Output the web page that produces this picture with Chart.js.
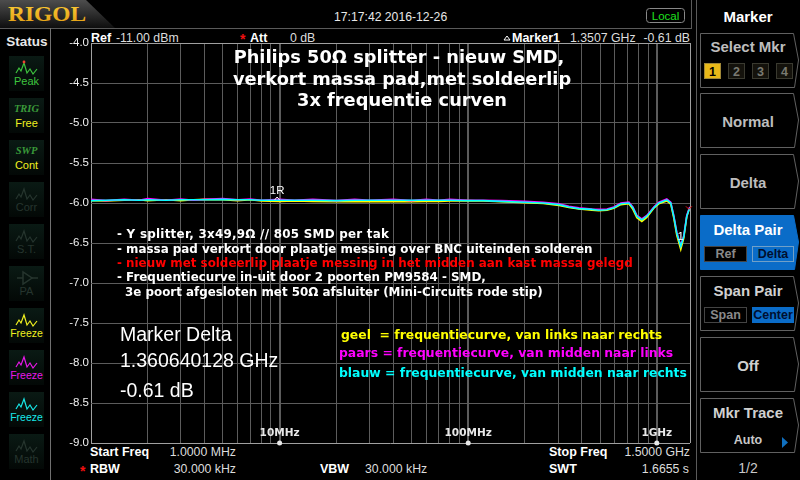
<!DOCTYPE html>
<html>
<head>
<meta charset="utf-8">
<title>Philips 50Ω splitter</title>
<script src="https://cdn.jsdelivr.net/npm/chart.js@4/dist/chart.umd.min.js"></script>
<style>
  html, body { margin: 0; padding: 0; background: #000; overflow: hidden; }
  #wrap { position: relative; width: 800px; height: 480px; }
  svg, canvas { position: absolute; left: 0; top: 0; }
  text { font-family: "Liberation Sans", Arial, sans-serif; }
  .note { font-family: "DejaVu Sans", Verdana, sans-serif; font-weight: bold; }
</style>
</head>
<body>
<div id="wrap">
  <svg id="back" width="800" height="480" xmlns="http://www.w3.org/2000/svg"></svg>
  <canvas id="grafico" width="800" height="480"></canvas>
  <svg id="front" width="800" height="480" xmlns="http://www.w3.org/2000/svg"></svg>
</div>
<script>
// frequency in MHz
const freqs = [1, 1.2, 1.5, 1.8, 2, 2.5, 3, 3.5, 4, 5, 6, 7, 8, 10, 12, 15, 20, 25, 30, 40, 50, 60, 70, 80, 100, 120, 150, 200, 250,
  303, 342, 386, 453, 493, 544, 592, 645, 711, 747, 784, 833, 885, 964, 1025, 1130, 1186, 1230, 1276, 1340, 1390, 1442, 1486, 1500];

const geel = [-5.97, -5.975, -5.965, -5.96, -5.97, -5.96, -5.97, -5.96, -5.955, -5.96, -5.97, -5.96, -5.975, -5.98, -5.975, -5.98, -5.985, -5.98, -5.985, -5.98, -5.985, -5.98, -5.98, -5.975, -5.97, -5.975, -5.985, -5.995, -6.005,
  -6.03, -6.055, -6.075, -6.09, -6.095, -6.09, -6.065, -6.02, -6.01, -6.08, -6.185, -6.23, -6.18, -6.065, -6.01, -5.975, -6.015, -6.185, -6.4, -6.58, -6.44, -6.17, -6.075, -6.06];
const paars = [-5.955, -5.97, -5.955, -5.965, -5.945, -5.965, -5.95, -5.965, -5.955, -5.945, -5.96, -5.95, -5.965, -5.955, -5.965, -5.955, -5.97, -5.955, -5.965, -5.955, -5.97, -5.955, -5.965, -5.955, -5.965, -5.965, -5.97, -5.98, -5.99,
  -6.01, -6.04, -6.06, -6.075, -6.08, -6.075, -6.05, -6.0, -5.99, -6.05, -6.155, -6.2, -6.155, -6.05, -5.99, -5.95, -5.99, -6.155, -6.365, -6.53, -6.41, -6.155, -6.065, -6.05];
const blauw = [-5.97, -5.965, -5.96, -5.965, -5.96, -5.965, -5.96, -5.96, -5.96, -5.955, -5.96, -5.96, -5.965, -5.965, -5.965, -5.965, -5.97, -5.965, -5.965, -5.965, -5.965, -5.965, -5.965, -5.965, -5.97, -5.97, -5.98, -5.99, -6.0,
  -6.02, -6.05, -6.07, -6.08, -6.09, -6.085, -6.06, -6.01, -6.0, -6.06, -6.165, -6.21, -6.165, -6.06, -6.0, -5.96, -6.0, -6.165, -6.375, -6.54, -6.42, -6.165, -6.075, -6.06];

const gridFreqs = [1, 2, 3, 4, 5, 6, 7, 8, 9, 10, 20, 30, 40, 50, 60, 70, 80, 90, 100, 200, 300, 400, 500, 600, 700, 800, 900, 1000, 1500];
const decadeFreqs = [10, 100, 1000];
const decadeLabels = ["10MHz", "100MHz", "1GHz"];
const yMin = -9, yMax = -4, yStep = 0.5;

const markerRef = [9.7, -5.95];
const markerDelta = [1340, -6.42];
const markerEnd = [1480, -6.06];

const titleLines = ["Philips 50Ω splitter - nieuw SMD,", "verkort massa pad,met soldeerlip", "3x frequentie curven"];
const noteLines = ["- Y splitter, 3x49,9Ω // 805 SMD per tak",
  "- massa pad verkort door plaatje messing over BNC uiteinden solderen",
  "- nieuw met soldeerlip plaatje messing in het midden aan kast massa gelegd",
  "- Frequentiecurve in-uit door 2 poorten PM9584 - SMD,",
  "3e poort afgesloten met 50Ω afsluiter (Mini-Circuits rode stip)"];
const deltaLines = ["Marker Delta", "1.360640128 GHz", "-0.61 dB"];
const legendLines = ["geel  = frequentiecurve, van links naar rechts",
  "paars = frequentiecurve, van midden naar links",
  "blauw = frequentiecurve, van midden naar rechts"];

const NS = "http://www.w3.org/2000/svg";
function el(parent, name, attrs, content) {
  const e = document.createElementNS(NS, name);
  for (const k in attrs) e.setAttribute(k, attrs[k]);
  if (content !== undefined) e.textContent = content;
  parent.appendChild(e);
  return e;
}
function txt(parent, x, y, s, size, fill, extra) {
  const a = Object.assign({ x: x, y: y, "font-size": size, fill: fill }, extra || {});
  const t = el(parent, "text", a, s);
  t.style.whiteSpace = "pre";
  return t;
}
const BOLD = { "font-weight": "bold" };
const back = document.getElementById("back");
const front = document.getElementById("front");

// ---- frame and logo
const defs = el(back, "defs", {});
const lg = el(defs, "linearGradient", { id: "logoBg", x1: 0, y1: 0, x2: 0, y2: 1 });
el(lg, "stop", { offset: "0", "stop-color": "#4d4d4d" });
el(lg, "stop", { offset: "1", "stop-color": "#0e0e0e" });
const lg2 = el(defs, "linearGradient", { id: "logoGold", x1: 0, y1: 0, x2: 0, y2: 1 });
el(lg2, "stop", { offset: "0", "stop-color": "#ffd23a" });
el(lg2, "stop", { offset: "1", "stop-color": "#e09a10" });
const lg3 = el(defs, "linearGradient", { id: "statusBg", x1: 0, y1: 0, x2: 0, y2: 1 });
el(lg3, "stop", { offset: "0", "stop-color": "#0a1a14" });
el(lg3, "stop", { offset: "1", "stop-color": "#030806" });

el(back, "polygon", { points: "0,0 86,0 115,28 0,28", fill: "url(#logoBg)" });
txt(back, 8, 21, "RIGOL", 22, "url(#logoGold)", { "font-weight": "bold", style: "font-family:'Liberation Serif',serif", textLength: 78, lengthAdjust: "spacingAndGlyphs" });
el(back, "line", { x1: 0, y1: 28.5, x2: 692, y2: 28.5, stroke: "#5a5a5a" });
el(back, "line", { x1: 50.5, y1: 28, x2: 50.5, y2: 480, stroke: "#707070" });
el(back, "line", { x1: 691.5, y1: 0, x2: 691.5, y2: 28, stroke: "#5a5a5a" });
el(back, "line", { x1: 696.5, y1: 0, x2: 696.5, y2: 480, stroke: "#5a5a5a" });

// ---- top bar
txt(back, 334, 21, "17:17:42 2016-12-26", 12.2, "#e8e8e8");
el(back, "rect", { x: 646.5, y: 8.5, width: 38, height: 14, rx: 3, fill: "#000", stroke: "#888" });
txt(back, 665.5, 20, "Local", 11.5, "#1fe01f", { "text-anchor": "middle" });
txt(back, 91, 42, "Ref", 12.5, "#fff", BOLD);
txt(back, 116, 42, "-11.00 dBm", 12.3, "#ddd");
txt(back, 240, 44, "*", 14, "#f01010", BOLD);
txt(back, 250, 42, "Att", 12.5, "#fff", BOLD);
txt(back, 290, 42, "0 dB", 12.3, "#ddd");
el(back, "polygon", { points: "504,40 510,40 507,36", fill: "none", stroke: "#fff" });
txt(back, 512, 42, "Marker1", 12.5, "#fff", BOLD);
txt(back, 570, 42, "1.3507 GHz", 12.3, "#ddd");
txt(back, 690, 42, "-0.61 dB", 12.3, "#ddd", { "text-anchor": "end" });

// ---- bottom bar
txt(back, 90, 456, "Start Freq", 12.5, "#fff", BOLD);
txt(back, 236, 456, "1.0000 MHz", 12.3, "#ddd", { "text-anchor": "end" });
txt(back, 80, 476, "*", 14, "#f01010", BOLD);
txt(back, 90, 473, "RBW", 12.5, "#fff", BOLD);
txt(back, 236, 473, "30.000 kHz", 12.3, "#ddd", { "text-anchor": "end" });
txt(back, 320, 473, "VBW", 12.5, "#fff", BOLD);
txt(back, 365, 473, "30.000 kHz", 12.3, "#ddd");
txt(back, 549, 456, "Stop Freq", 12.5, "#fff", BOLD);
txt(back, 690, 456, "1.5000 GHz", 12.3, "#ddd", { "text-anchor": "end" });
txt(back, 549, 473, "SWT", 12.5, "#fff", BOLD);
txt(back, 689, 473, "1.6655 s", 12.3, "#ddd", { "text-anchor": "end" });

// ---- status column
txt(back, 27, 46, "Status", 13.5, "#e8e8e8", { "font-weight": "bold", "text-anchor": "middle" });
const wave = "7,17 10,12 12,15 15,7 18,17 21,13 24,18 28,13";
const dim = "#26352e";
const statusRows = [
  { label: "Peak", wave: "#3ec43e", text: "#3ec43e", dot: true },
  { head: "TRIG", label: "Free", text: "#f0f020" },
  { head: "SWP", label: "Cont", text: "#f0f020" },
  { label: "Corr", wave: dim, text: dim },
  { label: "S.T.", wave: dim, text: dim },
  { label: "PA", text: dim, amp: true },
  { label: "Freeze", wave: "#f0f020", text: "#f0f020" },
  { label: "Freeze", wave: "#e818e8", text: "#e818e8" },
  { label: "Freeze", wave: "#18e8e8", text: "#18e8e8" },
  { label: "Math", wave: dim, text: dim }
];
statusRows.forEach(function (r, i) {
  const y = 56 + i * 42;
  el(back, "rect", { x: 9, y: y, width: 35, height: 35, fill: "url(#statusBg)" });
  const g = el(back, "g", { transform: "translate(9," + y + ")" });
  if (r.wave) el(g, "polyline", { points: wave, fill: "none", stroke: r.wave, "stroke-width": 1.2 });
  if (r.dot) el(g, "circle", { cx: 15, cy: 6, r: 1.4, fill: "#f04030" });
  if (r.amp) {
    el(g, "polygon", { points: "14,6 14,18 23,12", fill: "none", stroke: dim, "stroke-width": 1.5 });
    el(g, "line", { x1: 8, y1: 12, x2: 14, y2: 12, stroke: dim, "stroke-width": 1.5 });
    el(g, "line", { x1: 23, y1: 12, x2: 29, y2: 12, stroke: dim, "stroke-width": 1.5 });
  }
  if (r.head) txt(g, 17.5, 14, r.head, 10.5, "#3a9a3a", { "text-anchor": "middle", "font-weight": "bold", "font-style": "italic", style: "font-family:'Liberation Serif',serif" });
  txt(g, 17.5, 29, r.label, r.label === "Freeze" ? 10.5 : 11, r.text, { "text-anchor": "middle" });
});

// ---- soft keys
txt(back, 748, 22, "Marker", 15, "#fff", { "font-weight": "bold", "text-anchor": "middle" });
const keyTops = [33, 93, 154, 215, 276, 337, 398];
keyTops.forEach(function (t, i) {
  const h = 54;
  const active = i === 3;
  el(back, "polygon", {
    points: "700.5," + (t + 0.5) + " 793.5," + (t + 0.5) + " 798.5," + (t + h / 2) + " 794.5," + (t + h + 0.5) + " 700.5," + (t + h + 0.5),
    fill: active ? "#0a6cc8" : "#000", stroke: active ? "#0a6cc8" : "#606060"
  });
});
const keyBold = { "font-weight": "bold", "text-anchor": "middle" };
txt(back, 748, 52, "Select Mkr", 15, "#bdbdbd", keyBold);
txt(back, 748, 127, "Normal", 15, "#bdbdbd", keyBold);
txt(back, 748, 188, "Delta", 15, "#bdbdbd", keyBold);
txt(back, 748, 235, "Delta Pair", 15, "#fff", keyBold);
txt(back, 748, 296, "Span Pair", 15, "#d0d0d0", keyBold);
txt(back, 748, 371, "Off", 15, "#d0d0d0", keyBold);
txt(back, 748, 418, "Mkr Trace", 15, "#d0d0d0", keyBold);
txt(back, 748, 444, "Auto", 12.5, "#c8c8c8", keyBold);
el(back, "polygon", { points: "782,437 788,442.5 782,448", fill: "#1070c0" });
txt(back, 748, 473, "1/2", 14, "#c8c8c8", { "text-anchor": "middle" });

["1", "2", "3", "4"].forEach(function (s, i) {
  const x = 704 + i * 24;
  el(back, "rect", { x: x + 0.5, y: 63.5, width: 16, height: 15, fill: i === 0 ? "#e8b818" : "#14120c", stroke: i === 0 ? "#a08838" : "#3a3a30" });
  txt(back, x + 8.5, 76, s, 12.5, i === 0 ? "#000" : "#7a7a72", keyBold);
});
el(back, "rect", { x: 704.5, y: 246.5, width: 42, height: 15, fill: "#000", stroke: "#444" });
txt(back, 725.5, 258, "Ref", 12.5, "#8a8a8a", keyBold);
el(back, "rect", { x: 752.5, y: 246.5, width: 41, height: 15, fill: "#0a6cc8", stroke: "#70a0c8" });
txt(back, 773, 258, "Delta", 12.5, "#001030", keyBold);
el(back, "rect", { x: 704.5, y: 307.5, width: 42, height: 15, fill: "#000", stroke: "#444" });
txt(back, 725.5, 319, "Span", 12.5, "#8a8a8a", keyBold);
el(back, "rect", { x: 752.5, y: 307.5, width: 41, height: 15, fill: "#0a6cc8", stroke: "#0a6cc8" });
txt(back, 773, 319, "Center", 12.5, "#001030", keyBold);

// ---- notes on top of the plot
const titleBase = [63, 85, 106];
const titleCenter = [399, 402, 402];
titleLines.forEach(function (s, i) {
  txt(front, titleCenter[i], titleBase[i], s, 17.8, "#fff", { class: "note", "text-anchor": "middle" });
});
const noteBase = [238, 253, 267, 281, 296];
const noteColors = ["#fff", "#fff", "#ff0000", "#fff", "#fff"];
noteLines.forEach(function (s, i) {
  const t = txt(front, i === 4 ? 125 : 117, noteBase[i], s, 11.9, noteColors[i], { class: "note" });
  if (i === 0) t.setAttribute("textLength", 272); // the // is wider in the original
});
const deltaBase = [341, 367, 397];
deltaLines.forEach(function (s, i) {
  txt(front, 120, deltaBase[i], s, 19.5, "#fff");
});
const legendBase = [339, 357, 377];
const legendColors = ["#ffff00", "#ff00ff", "#00ffff"];
legendLines.forEach(function (s, i) {
  txt(front, i === 0 ? 341 : 339, legendBase[i], s, 12.4, legendColors[i], { class: "note" });
});

// ---- chart
const axisMarks = {
  id: "axisMarks",
  afterDraw(chart) {
    const c = chart.ctx, xs = chart.scales.x, ys = chart.scales.y;
    c.save();
    c.textAlign = "center";
    c.fillStyle = "#e8e8e8";
    c.font = "bold 10.5px 'DejaVu Sans'";
    decadeFreqs.forEach(function (f, i) {
      const px = xs.getPixelForValue(f);
      c.fillText(decadeLabels[i], px, 436);
      c.beginPath();
      c.arc(px, ys.bottom, 2.5, 0, Math.PI * 2);
      c.fill();
    });
    // markers
    c.font = "11.5px 'Liberation Sans'";
    c.fillStyle = "#fff";
    const rx = xs.getPixelForValue(markerRef[0]), ry = ys.getPixelForValue(markerRef[1]);
    c.fillText("1R", rx, ry - 5);
    c.strokeStyle = "#fff";
    c.beginPath();
    c.moveTo(rx - 2.5, ry + 1); c.lineTo(rx, ry - 2); c.lineTo(rx + 2.5, ry + 1);
    c.stroke();
    c.fillText("1", xs.getPixelForValue(markerDelta[0]), ys.getPixelForValue(markerDelta[1]) + 3);
    const ex = xs.getPixelForValue(markerEnd[0]), ey = ys.getPixelForValue(markerEnd[1]);
    c.strokeStyle = "#f01010";
    c.beginPath();
    c.moveTo(ex - 3, ey - 1.5); c.lineTo(ex, ey + 1.5); c.lineTo(ex + 3, ey - 1.5);
    c.stroke();
    c.restore();
  }
};

function trace(values, color) {
  return { data: values, borderColor: color, borderWidth: 1.6, pointRadius: 0, tension: 0, fill: false };
}

new Chart(document.getElementById("grafico"), {
  type: "line",
  data: {
    labels: freqs,
    // first dataset ends up on top
    datasets: [trace(blauw, "#00ffff"), trace(paars, "#ff00ff"), trace(geel, "#ffff00")]
  },
  options: {
    responsive: false,
    animation: false,
    layout: { padding: { top: 43, right: 110, left: 0, bottom: 0 } },
    plugins: { legend: { display: false }, tooltip: { enabled: false } },
    scales: {
      x: {
        type: "logarithmic",
        min: 1,
        max: 1500,
        afterBuildTicks(s) { s.ticks = gridFreqs.map(v => ({ value: v })); },
        afterFit(s) { s.height = 37; },
        ticks: { display: false, autoSkip: false },
        border: { display: false },
        grid: {
          drawTicks: false,
          color: ctx => (ctx.tick.value === 1 || ctx.tick.value === 1500) ? "#a0a0a0" : "#5c5c5c",
          lineWidth: ctx => decadeFreqs.includes(ctx.tick.value) ? 2 : 1
        }
      },
      y: {
        min: yMin,
        max: yMax,
        afterFit(s) { s.width = 91; },
        ticks: {
          stepSize: yStep,
          padding: 2,
          color: "#f0f0f0",
          font: { family: "Liberation Sans", size: 11.5 },
          callback: v => v.toFixed(1)
        },
        border: { display: false },
        grid: {
          drawTicks: false,
          color: ctx => (ctx.tick.value === yMin || ctx.tick.value === yMax) ? "#a0a0a0" : "#5c5c5c"
        }
      }
    }
  },
  plugins: [axisMarks]
});
</script>
</body>
</html>
